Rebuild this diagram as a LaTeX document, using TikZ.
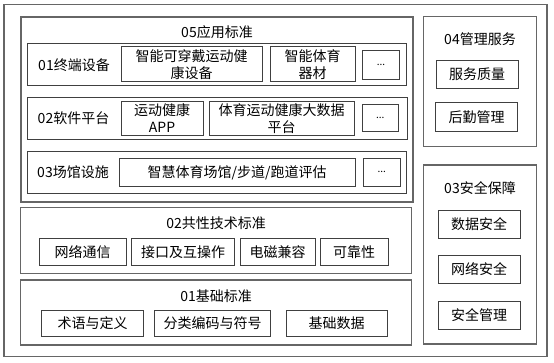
\documentclass[tikz,border=0pt]{standalone}
\usepackage{fontspec}
\setmainfont{Noto Sans CJK SC}
\begin{document}
\begin{tikzpicture}[
    x=1pt, y=-1pt,
    grp/.style={rectangle, draw=black!60, line width=1.1pt, inner sep=0pt},
    rowbox/.style={rectangle, draw=black!75, line width=0.9pt, inner sep=0pt},
    itembox/.style={rectangle, draw=black!75, line width=0.9pt, inner sep=0pt, align=center, font=\fontsize{14}{17}\selectfont},
    morebox/.style={itembox, font=\fontsize{10}{12}\selectfont},
    headtxt/.style={font=\fontsize{14}{17}\selectfont, inner sep=0pt}
]
    \useasboundingbox[fill=white] (0,0) rectangle (554,362);

    % Frames
    \node[grp, minimum width=543pt, minimum height=352.5pt] (outer) at (275.5,180.3) {};
    \node[grp, minimum width=392pt, minimum height=185pt]   (app)   at (217,109.5)   {};
    \node[grp, minimum width=391pt, minimum height=65.6pt]  (tech)  at (216.2,240.5) {};
    \node[grp, minimum width=391pt, minimum height=65pt]    (base)  at (216.2,312.5) {};
    \node[grp, minimum width=113.4pt, minimum height=130pt] (mgmt)  at (480,81.7)    {};
    \node[grp, minimum width=113.4pt, minimum height=179pt] (safe)  at (480,254.5)   {};

    % Titles
    \node[headtxt] (appT)  at (217,32)    {05应用标准};
    \node[headtxt] (techT) at (216.2,223.3) {02共性技术标准};
    \node[headtxt] (baseT) at (216.2,296) {01基础标准};
    \node[headtxt] (mgmtT) at (480,39.3)  {04管理服务};
    \node[headtxt] (safeT) at (480,188.3) {03安全保障};

    % Application rows
    \node[rowbox, minimum width=379.5pt, minimum height=42pt]   (term)  at (216.8,64)    {};
    \node[rowbox, minimum width=380pt, minimum height=41.6pt]   (soft)  at (217,118.5)   {};
    \node[rowbox, minimum width=379pt, minimum height=41.6pt]   (venue) at (216.5,172.5) {};
    \node[headtxt] (termT)  at (74,65)    {01终端设备};
    \node[headtxt] (softT)  at (73.5,118.5) {02软件平台};
    \node[headtxt] (venueT) at (73,172.6) {03场馆设施};

    % Row 01
    \node[itembox, minimum width=141pt, minimum height=35pt]   (wear)  at (191.5,64.2) {智能可穿戴运动健\\康设备};
    \node[itembox, minimum width=85pt, minimum height=35pt]    (equip) at (312.5,64.2) {智能体育\\器材};
    \node[morebox, minimum width=36.5pt, minimum height=28.6pt] (termM) at (381,65)    {...};

    % Row 02
    \node[itembox, minimum width=82pt, minimum height=33.3pt]   (appx)  at (162,118.3)   {运动健康\\APP};
    \node[itembox, minimum width=145pt, minimum height=33.3pt]  (data)  at (281.5,118.3) {体育运动健康大数据\\平台};
    \node[morebox, minimum width=35.3pt, minimum height=27.7pt] (softM) at (380.3,117.9) {...};

    % Row 03
    \node[itembox, minimum width=235.7pt, minimum height=28.2pt] (eval)   at (237.2,172.4) {智慧体育场馆/步道/跑道评估};
    \node[morebox, minimum width=36.7pt, minimum height=27.7pt]  (venueM) at (381.7,172.2) {...};

    % Common technology
    \node[itembox, minimum width=86.7pt, minimum height=27.4pt]  (net)   at (82.7,252)  {网络通信};
    \node[itembox, minimum width=102.6pt, minimum height=27.4pt] (iface) at (183,252)   {接口及互操作};
    \node[itembox, minimum width=75pt, minimum height=27.4pt]    (emc)   at (277.5,252) {电磁兼容};
    \node[itembox, minimum width=68.3pt, minimum height=27.4pt]  (rel)   at (354.2,252) {可靠性};

    % Basics
    \node[itembox, minimum width=101.6pt, minimum height=26.7pt] (term2) at (92.5,323.3)  {术语与定义};
    \node[itembox, minimum width=116.4pt, minimum height=26.7pt] (code)  at (212.5,323.3)  {分类编码与符号};
    \node[itembox, minimum width=101.3pt, minimum height=26.7pt] (bdata) at (336.7,323.3)  {基础数据};

    % Management
    \node[itembox, minimum width=82.3pt, minimum height=27.6pt] (qual) at (477.2,74.5)  {服务质量};
    \node[itembox, minimum width=81.6pt, minimum height=28.3pt] (logi) at (476.5,116.8) {后勤管理};

    % Security
    \node[itembox, minimum width=81.7pt, minimum height=27.6pt] (dsec) at (479.2,224.5) {数据安全};
    \node[itembox, minimum width=81.7pt, minimum height=28.3pt] (nsec) at (479.2,269.2) {网络安全};
    \node[itembox, minimum width=81.7pt, minimum height=27.6pt] (smgt) at (479.2,315.5) {安全管理};
\end{tikzpicture}
\end{document}
